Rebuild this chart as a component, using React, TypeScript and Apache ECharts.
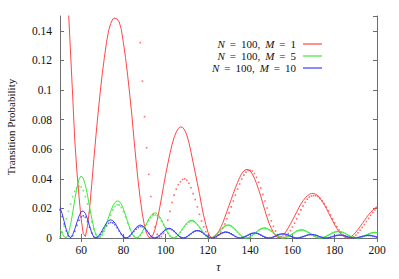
import React, { useEffect, useRef } from "react";
import * as echarts from "echarts";

// sample grid (tau = 50 ... 200, step 1)
const TAU: number[] = [];
for (let t = 50; t <= 200; t++) TAU.push(t);

const X_TICKS = [60, 80, 100, 120, 140, 160, 180, 200];
const SERIES_NAMES = ["N = 100, M = 1", "N = 100, M = 5", "N = 100, M = 10"];

// solid curves
const RED = [
  0.27, 0.24, 0.21, 0.183, 0.154, 0.125, 0.096, 0.066, 0.045, 0.028,
  0.013, 0.003, 0.001, 0.008, 0.020, 0.036, 0.053, 0.069, 0.084, 0.098,
  0.111, 0.122, 0.132, 0.140, 0.145, 0.148, 0.1486, 0.148, 0.146, 0.141,
  0.132, 0.122, 0.110, 0.097, 0.083, 0.067, 0.052, 0.038, 0.026, 0.016,
  0.008, 0.003, 0.0005, 0.0, 0.002, 0.006, 0.012, 0.019, 0.027, 0.035,
  0.043, 0.050, 0.057, 0.063, 0.068, 0.0715, 0.074, 0.075, 0.0748, 0.073,
  0.0695, 0.0645, 0.058, 0.051, 0.044, 0.037, 0.030, 0.022, 0.015, 0.009,
  0.004, 0.001, 0.0, 0.001, 0.002, 0.004, 0.007, 0.010, 0.014, 0.018,
  0.022, 0.026, 0.030, 0.034, 0.0375, 0.0408, 0.0435, 0.0453, 0.0462, 0.0463,
  0.0453, 0.0433, 0.0404, 0.0368, 0.0327, 0.0283, 0.0232, 0.0184, 0.0138, 0.0096,
  0.0065, 0.0038, 0.0016, 0.0003, 0.0003, 0.001, 0.0025, 0.0045, 0.0068, 0.0093,
  0.012, 0.0148, 0.0176, 0.0204, 0.023, 0.0252, 0.027, 0.0285, 0.0295, 0.0301,
  0.0301, 0.0296, 0.0285, 0.027, 0.025, 0.0227, 0.020, 0.0172, 0.0144, 0.0116,
  0.0089, 0.0064, 0.0042, 0.0028, 0.0014, 0.0004, 0.0, 0.0004, 0.0012, 0.0024,
  0.004, 0.0058, 0.0077, 0.0097, 0.0118, 0.0138, 0.0157, 0.0174, 0.0189, 0.0201, 0.0211,
];

const GREEN = [
  0.006, 0.003, 0.0007, 0.0, 0.003, 0.009, 0.017, 0.026, 0.034, 0.0398,
  0.0419, 0.0403, 0.0358, 0.029, 0.021, 0.0135, 0.0068, 0.002, 0.0, 0.001,
  0.003, 0.006, 0.010, 0.0141, 0.0181, 0.0216, 0.024, 0.0251, 0.0248, 0.0229,
  0.0197, 0.0156, 0.011, 0.0067, 0.0032, 0.001, 0.0, 0.0005, 0.002, 0.0043,
  0.007, 0.010, 0.0128, 0.015, 0.0165, 0.017, 0.0164, 0.0148, 0.0123, 0.0093,
  0.0062, 0.0035, 0.0014, 0.0002, 0.0001, 0.0009, 0.0023, 0.0042, 0.0063, 0.0084,
  0.0102, 0.0115, 0.012, 0.0118, 0.0108, 0.0093, 0.0073, 0.0052, 0.0031, 0.0015,
  0.0004, 0.0, 0.0003, 0.0012, 0.0025, 0.004, 0.0057, 0.0071, 0.0082, 0.0088,
  0.0088, 0.0082, 0.0071, 0.0057, 0.004, 0.0025, 0.0012, 0.0003, 0.0, 0.0002,
  0.0008, 0.0018, 0.0029, 0.0042, 0.0053, 0.0062, 0.0067, 0.0068, 0.0065, 0.0058,
  0.0048, 0.0036, 0.0024, 0.0013, 0.0005, 0.0001, 0.0, 0.0004, 0.001, 0.0019,
  0.0029, 0.0038, 0.0047, 0.0053, 0.0055, 0.0054, 0.005, 0.0043, 0.0034, 0.0024,
  0.0014, 0.0007, 0.0002, 0.0, 0.0001, 0.0006, 0.0012, 0.002, 0.0028, 0.0036,
  0.0041, 0.0044, 0.0045, 0.0042, 0.0038, 0.0031, 0.0023, 0.0015, 0.0008, 0.0003,
  0.0, 0.0, 0.0003, 0.0007, 0.0014, 0.0021, 0.0027, 0.0033, 0.0037, 0.0038, 0.0037,
];

const BLUE = [
  0.0205, 0.0165, 0.011, 0.0055, 0.0015, 0.0003, 0.0022, 0.006, 0.0106, 0.0148,
  0.0177, 0.0183, 0.0166, 0.0129, 0.008, 0.0036, 0.0006, 0.0001, 0.0009, 0.0028,
  0.0052, 0.0078, 0.0102, 0.0117, 0.0123, 0.0117, 0.0101, 0.0077, 0.0051, 0.0027,
  0.0008, 0.0, 0.0003, 0.0014, 0.0032, 0.0051, 0.007, 0.0083, 0.0088, 0.0083,
  0.007, 0.0051, 0.0031, 0.0013, 0.0002, 0.0, 0.0006, 0.0017, 0.0031, 0.0046,
  0.0058, 0.0065, 0.0065, 0.0058, 0.0046, 0.0031, 0.0017, 0.0005, 0.0, 0.0002,
  0.0008, 0.0019, 0.003, 0.0041, 0.0048, 0.0051, 0.0048, 0.004, 0.003, 0.0018,
  0.0008, 0.0001, 0.0, 0.0004, 0.001, 0.002, 0.0029, 0.0036, 0.004, 0.004,
  0.0036, 0.0028, 0.0019, 0.001, 0.0003, 0.0, 0.0001, 0.0006, 0.0012, 0.002,
  0.0027, 0.0032, 0.0034, 0.0032, 0.0027, 0.002, 0.0012, 0.0005, 0.0001, 0.0,
  0.0002, 0.0007, 0.0013, 0.002, 0.0025, 0.0028, 0.0028, 0.0025, 0.0019, 0.0013,
  0.0007, 0.0002, 0.0, 0.0001, 0.0004, 0.0009, 0.0014, 0.0019, 0.0023, 0.0024,
  0.0023, 0.0019, 0.0014, 0.0008, 0.0004, 0.0001, 0.0, 0.0002, 0.0005, 0.001,
  0.0014, 0.0018, 0.002, 0.002, 0.0018, 0.0014, 0.0009, 0.0005, 0.0002, 0.0,
  0.0001, 0.0003, 0.0007, 0.0011, 0.0014, 0.0017, 0.0018, 0.0017, 0.0014, 0.001, 0.0006,
];

// dotted curves (one dot per integer tau; null = above the plot)
const RED_DOTS = [
  null, null, null, null, null, null, null, null, null, null,
  null, null, null, null, null, null, null, null, null, null,
  null, null, null, null, null, null, null, null, null, null,
  null, null, null, null, null, null, null, null, 0.132, 0.106,
  0.082, 0.061, 0.043, 0.028, 0.016, 0.0075, 0.0025, 0.0003, 0.001, 0.003,
  0.007, 0.012, 0.018, 0.024, 0.029, 0.033, 0.036, 0.038, 0.0395, 0.040,
  0.039, 0.037, 0.034, 0.030, 0.026, 0.021, 0.016, 0.0115, 0.0075, 0.0042,
  0.0018, 0.0004, 0.0, 0.0004, 0.0008, 0.002, 0.004, 0.0065, 0.0095, 0.013,
  0.017, 0.021, 0.025, 0.029, 0.033, 0.0365, 0.0398, 0.0425, 0.0445, 0.0456,
  0.0458, 0.0452, 0.0436, 0.041, 0.0377, 0.0338, 0.0295, 0.025, 0.0203, 0.0158,
  0.0116, 0.0079, 0.0047, 0.0023, 0.0007, 0.0, 0.0004, 0.0015, 0.003, 0.005,
  0.0074, 0.010, 0.013, 0.016, 0.019, 0.0217, 0.0242, 0.0262, 0.0276, 0.0284,
  0.0287, 0.0286, 0.028, 0.0268, 0.0252, 0.0232, 0.0209, 0.0183, 0.0156, 0.0129,
  0.0102, 0.0077, 0.0054, 0.0035, 0.0019, 0.0008, 0.0002, 0.0, 0.0002, 0.0008,
  0.002, 0.0035, 0.0052, 0.0071, 0.0091, 0.0112, 0.0133, 0.0153, 0.0172, 0.0189, 0.0204,
];

const GREEN_DOTS = [
  0.001, 0.004, 0.008, 0.013, 0.018, 0.023, 0.028, 0.0315, 0.034, 0.035,
  0.0345, 0.032, 0.028, 0.023, 0.017, 0.011, 0.006, 0.0025, 0.0005, 0.0005,
  0.002, 0.0045, 0.008, 0.0118, 0.0155, 0.019, 0.0213, 0.0225, 0.0222, 0.0206,
  0.0178, 0.0142, 0.0102, 0.0064, 0.0033, 0.0011, 0.0001, 0.0004, 0.0017, 0.0038,
  0.0064, 0.0092, 0.0117, 0.0137, 0.015, 0.0155, 0.0151, 0.0137, 0.0115, 0.0088,
  0.0059, 0.0034, 0.0014, 0.0003, 0.0, 0.0007, 0.002, 0.0038, 0.0058, 0.0078,
  0.0095, 0.0107, 0.0113, 0.0112, 0.0103, 0.0089, 0.0071, 0.0051, 0.0031, 0.0015,
  0.0005, 0.0, 0.0003, 0.0011, 0.0024, 0.0038, 0.0054, 0.0068, 0.0078, 0.0084,
  0.0084, 0.0078, 0.0068, 0.0055, 0.0039, 0.0024, 0.0012, 0.0003, 0.0, 0.0002,
  0.0008, 0.0017, 0.0028, 0.004, 0.0051, 0.0059, 0.0064, 0.0065, 0.0062, 0.0055,
  0.0046, 0.0035, 0.0023, 0.0013, 0.0005, 0.0001, 0.0, 0.0004, 0.001, 0.0018,
  0.0027, 0.0036, 0.0045, 0.005, 0.0053, 0.0052, 0.0048, 0.0041, 0.0033, 0.0023,
  0.0014, 0.0007, 0.0002, 0.0, 0.0001, 0.0005, 0.0011, 0.0019, 0.0027, 0.0034,
  0.0039, 0.0042, 0.0043, 0.004, 0.0036, 0.003, 0.0022, 0.0014, 0.0008, 0.0003,
  0.0, 0.0, 0.0003, 0.0007, 0.0013, 0.002, 0.0026, 0.0031, 0.0035, 0.0036, 0.0035,
];

const BLUE_DOTS = [
  0.019, 0.0145, 0.0095, 0.0048, 0.0014, 0.0001, 0.0015, 0.0045, 0.0085, 0.012,
  0.0143, 0.015, 0.014, 0.0112, 0.0073, 0.0035, 0.0008, 0.0, 0.0007, 0.0022,
  0.0042, 0.0065, 0.0085, 0.0099, 0.0105, 0.0102, 0.009, 0.007, 0.0047, 0.0025,
  0.0009, 0.0001, 0.0002, 0.0012, 0.0027, 0.0044, 0.006, 0.0072, 0.0078, 0.0076,
  0.0066, 0.005, 0.0031, 0.0014, 0.0003, 0.0, 0.0005, 0.0015, 0.0029, 0.0043,
  0.0055, 0.0061, 0.0062, 0.0056, 0.0045, 0.0031, 0.0017, 0.0006, 0.0001, 0.0002,
  0.0008, 0.0018, 0.0029, 0.0039, 0.0046, 0.0049, 0.0047, 0.004, 0.003, 0.0019,
  0.0009, 0.0002, 0.0, 0.0004, 0.001, 0.0019, 0.0028, 0.0035, 0.0039, 0.0039,
  0.0035, 0.0028, 0.0019, 0.001, 0.0003, 0.0, 0.0001, 0.0006, 0.0012, 0.0019,
  0.0026, 0.0031, 0.0033, 0.0032, 0.0027, 0.002, 0.0012, 0.0006, 0.0001, 0.0,
  0.0002, 0.0007, 0.0013, 0.0019, 0.0024, 0.0027, 0.0027, 0.0024, 0.0019, 0.0013,
  0.0007, 0.0002, 0.0, 0.0001, 0.0004, 0.0009, 0.0014, 0.0019, 0.0022, 0.0023,
  0.0022, 0.0019, 0.0014, 0.0008, 0.0004, 0.0001, 0.0, 0.0002, 0.0005, 0.0009,
  0.0013, 0.0017, 0.0019, 0.0019, 0.0017, 0.0013, 0.0009, 0.0005, 0.0002, 0.0,
  0.0001, 0.0003, 0.0006, 0.001, 0.0014, 0.0016, 0.0017, 0.0016, 0.0013, 0.001, 0.0006,
];

const COLORS = ["#ff4747", "#3ee83e", "#3b3bff"];
const FRAME = "#6e6e6e";
const FONT = "'Liberation Serif', 'DejaVu Serif', serif";

function pairs(vals: (number | null)[]) {
  const out: [number, number][] = [];
  vals.forEach((v, i) => {
    if (v !== null) out.push([TAU[i], v]);
  });
  return out;
}

export default function App() {
  const ref = useRef<HTMLDivElement>(null);

  useEffect(() => {
    if (!ref.current) return;
    const chart = echarts.init(ref.current, undefined, { renderer: "svg" });
    const solid = [RED, GREEN, BLUE];
    const dots = [RED_DOTS, GREEN_DOTS, BLUE_DOTS];

    const lineSeries = solid.map((vals, k) => ({
      type: "line",
      name: SERIES_NAMES[k],
      data: pairs(vals),
      symbol: "none",
      clip: true,
      z: 3,
      lineStyle: { color: COLORS[k], width: 1 },
      itemStyle: { color: COLORS[k] },
    }));
    const dotSeries = dots.map((vals, k) => ({
      type: "scatter",
      name: "dots" + k,
      data: pairs(vals),
      symbol: "rect",
      symbolSize: 1.6,
      clip: true,
      z: 2,
      itemStyle: { color: COLORS[k] },
    }));

    const axisCommon = {
      axisLine: { show: true, lineStyle: { color: FRAME, width: 1 } },
      axisTick: { show: true, inside: true, length: 4, lineStyle: { color: FRAME } },
      splitLine: { show: false },
    };

    const textBase = { fontFamily: FONT, fontSize: 11.5, color: "#111" };
    const legendText = { fontFamily: FONT, fontSize: 11, color: "#111", lineHeight: 12 };

    chart.setOption({
      animation: false,
      backgroundColor: "#ffffff",
      textStyle: { fontFamily: FONT },
      grid: { left: 60, right: 22, top: 16, bottom: 41, containLabel: false, outerBoundsMode: "none" },
      legend: {
        data: SERIES_NAMES.map((n) => ({ name: n, icon: "rect" })),
        orient: "vertical",
        right: 72,
        top: 33,
        align: "right",
        itemWidth: 19,
        itemHeight: 1.2,
        itemGap: 0,
        textStyle: {
          ...legendText,
          padding: [0, 2, 0, 0],
          rich: {
            i: { ...legendText, fontStyle: "italic" },
            r: { ...legendText },
          },
        },
        formatter: (name: string) => {
          const m = name.match(/N = (\d+), M = (\d+)/);
          if (!m) return name;
          return (
            "{i|N}{r|\u2009 = \u2009" + m[1] + ",\u2009 }{i|M}{r|\u2009 = \u2009" + m[2] + "}"
          );
        },
        selectedMode: false,
      },
      xAxis: [
        {
          type: "value",
          min: 50,
          max: 200,
          position: "bottom",
          ...axisCommon,
          axisTick: { ...axisCommon.axisTick, customValues: X_TICKS },
          axisLabel: { customValues: X_TICKS, ...textBase, margin: 6 },
          name: "τ",
          nameLocation: "middle",
          nameGap: 22,
          nameTextStyle: { ...textBase, fontSize: 12, fontStyle: "italic" },
        },
        {
          type: "value",
          min: 50,
          max: 200,
          position: "top",
          ...axisCommon,
          axisTick: { ...axisCommon.axisTick, customValues: X_TICKS },
          axisLabel: { show: false, customValues: X_TICKS },
        },
      ],
      yAxis: [
        {
          type: "value",
          min: 0,
          max: 0.15,
          interval: 0.02,
          position: "left",
          ...axisCommon,
          axisLabel: {
            ...textBase,
            margin: 8,
            showMaxLabel: false,
            formatter: (v: number) => String(Number(v.toFixed(2))),
          },
          name: "Transition Probability",
          nameLocation: "middle",
          nameGap: 44,
          nameTextStyle: { ...textBase, fontSize: 11 },
        },
        {
          type: "value",
          min: 0,
          max: 0.15,
          interval: 0.02,
          position: "right",
          ...axisCommon,
          axisLabel: { show: false },
        },
      ],
      series: [...dotSeries, ...lineSeries],
    });

    return () => chart.dispose();
  }, []);

  return (
    <div
      ref={ref}
      style={{ position: "fixed", left: 0, top: 0, width: 399, height: 279, background: "#fff" }}
    />
  );
}
